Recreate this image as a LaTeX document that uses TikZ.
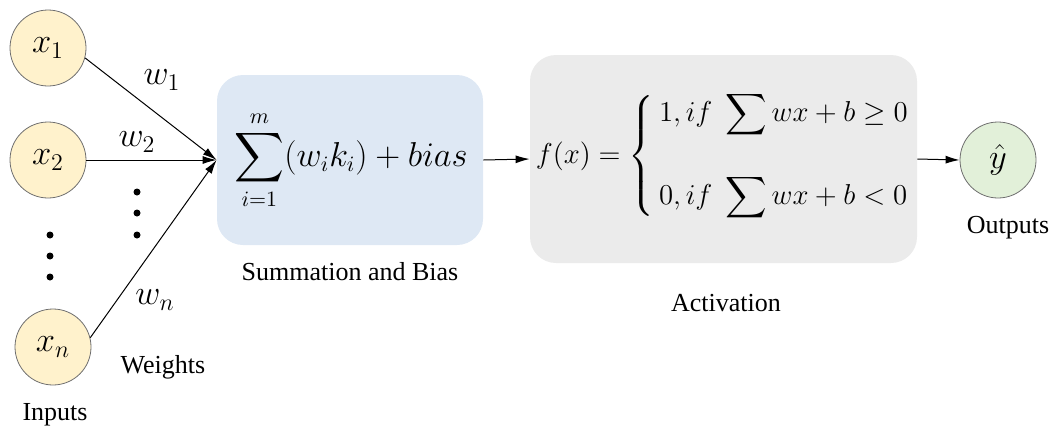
\documentclass[tikz,border=0pt]{standalone}
\usepackage{amsmath}
\usepackage{fontspec}
\setmainfont{Liberation Serif}
\newfontfamily\capfont{Liberation Serif}
\usetikzlibrary{arrows.meta}
\definecolor{inyellow}{HTML}{FFF2CC}
\definecolor{sumblue}{HTML}{DEE8F4}
\definecolor{actgray}{HTML}{EBEBEB}
\definecolor{outgreen}{HTML}{E2F0D9}
\definecolor{rimgray}{HTML}{6F6F6F}
\begin{document}
\begin{tikzpicture}[x=0.5pt,y=-0.5pt,
  neuron/.style={circle,draw=rimgray,line width=0.4pt,minimum size=38pt,inner sep=0pt,font=\fontsize{17}{20}\selectfont},
  stagebox/.style={rounded corners=13pt,inner sep=0pt},
  caption/.style={font=\capfont\fontsize{13}{15}\selectfont,inner sep=0pt},
  wlabel/.style={font=\fontsize{17}{20}\selectfont,inner sep=0pt},
  dotnode/.style={circle,fill=black,minimum size=3.5pt,inner sep=0pt},
  arr/.style={-{Latex[length=7pt,width=4pt]},line width=0.5pt}]
\useasboundingbox (0,0) rectangle (1052,434);
% inputs
\node[neuron,fill=inyellow] (x1) at (48,48) {$x_1$};
\node[neuron,fill=inyellow] (x2) at (48,160) {$x_2$};
\node[neuron,fill=inyellow] (xn) at (53,347) {$x_n$};
\node[dotnode] (id1) at (50,235) {};
\node[dotnode] (id2) at (50,256) {};
\node[dotnode] (id3) at (50,277) {};
\node[caption] (inputs) at (55,415) {Inputs};
% weights
\node[wlabel] (w1) at (162,80) {$w_1$};
\node[wlabel] (w2) at (137,142) {$w_2$};
\node[wlabel] (wn) at (155,300) {$w_n$};
\node[dotnode] (wd1) at (137,192) {};
\node[dotnode] (wd2) at (137,213) {};
\node[dotnode] (wd3) at (137,235) {};
\node[caption] (weights) at (163,367) {Weights};
% summation
\node[stagebox,fill=sumblue,minimum width=133pt,minimum height=85pt] (sig) at (350,160) {};
\node[font=\fontsize{16}{19}\selectfont,inner sep=0pt] (sigf) at (351,160) {$\displaystyle\sum_{i=1}^{m}(w_ik_i)+bias$};
\node[caption] (sumcap) at (350,272) {Summation and Bias};
% activation
\node[stagebox,fill=actgray,minimum width=193.5pt,minimum height=104pt] (act) at (723.5,159) {};
\node[font=\fontsize{14.5}{17}\selectfont,inner sep=0pt] (actf) at (723,156) {$f(x)=\left\{\begin{array}{@{\,}l@{}}1, if\;\displaystyle\sum wx+b\geq 0\\[21pt]0, if\;\displaystyle\sum wx+b<0\end{array}\right.$};
\node[caption] (actcap) at (726,303) {Activation};
% output
\node[neuron,fill=outgreen] (yhat) at (998,160) {$\hat{y}$};
\node[caption] (outcap) at (1008,228) {Outputs};
% connectors
\draw[arr] (x1.-15) -- (sig.west);
\draw[arr] (x2.east) -- (sig.west);
\draw[arr] (xn.14) -- (sig.west);
\draw[arr] (sig.east) -- (act.west);
\draw[arr] (act.east) -- (yhat.west);
\end{tikzpicture}
\end{document}
